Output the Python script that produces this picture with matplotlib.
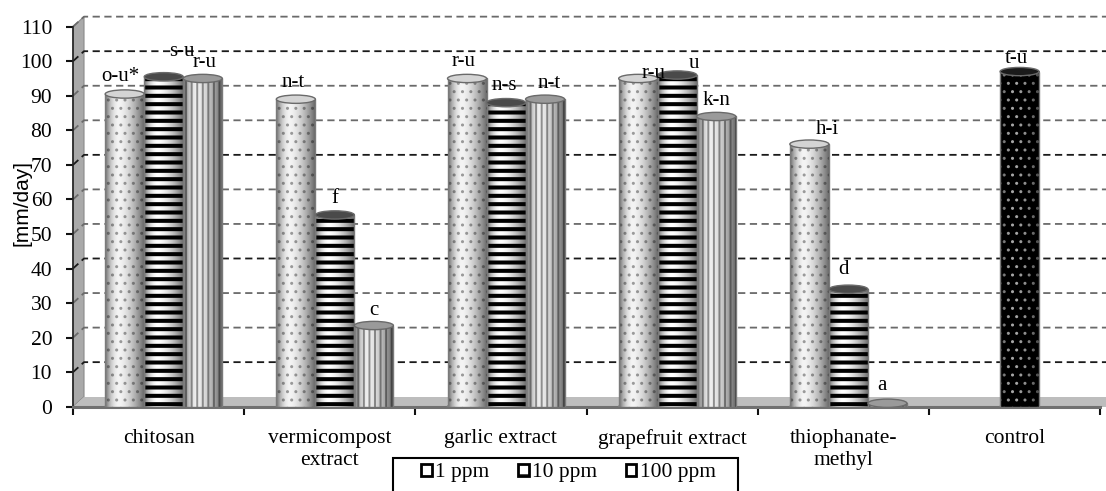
import numpy as np
import matplotlib
matplotlib.use("Agg")
import matplotlib.pyplot as plt
from matplotlib.patches import Ellipse, Polygon, Patch, Rectangle

# ---------------- data ----------------
categories = ["chitosan", "vermicompost\nextract", "garlic extract",
              "grapefruit extract", "thiophanate-\nmethyl", "control"]
series_names = ["1 ppm", "10 ppm", "100 ppm"]
ppm1 = [90.5, 89.0, 95.0, 95.0, 76.0, None]
ppm10 = [95.5, 55.5, 88.0, 96.0, 34.0, None]
ppm100 = [95.0, 23.5, 89.0, 84.0, 1.0, None]
control_value = 97.0
labels1 = ["o-u*", "n-t", "r-u", "r-u", "h-i"]
labels10 = ["s-u", "f", "n-s", "u", "d"]
labels100 = ["r-u", "c", "n-t", "k-n", "a"]
control_label = "t-u"
yticks = list(range(0, 111, 10))

# label offsets in pixels (style only)
off1 = [(-4, 18), (-3, 17), (-3, 17), (15, 5), (18, 15)]
off10 = [(18, 25), (0, 16), (-2, 17), (17, 12), (-5, 20)]
off100 = [(2, 16), (0, 15), (4, 16), (0, 16), (-5, 18)]
off_control = (-3, 13)

serif = ["Liberation Serif", "DejaVu Serif"]
sans = ["Liberation Sans", "DejaVu Sans"]
plt.rcParams["font.family"] = serif

W, H = 1106, 491
fig = plt.figure(figsize=(W / 100, H / 100), dpi=100)
y0px, x0px, x1px = 406.7, 73, 1100
ymax = 113.5
pxu = 3.455
ax = fig.add_axes([x0px / W, 1 - y0px / H, (x1px - x0px) / W, ymax * pxu / H])
ax.set_xlim(-0.5, 5.5)
ax.set_ylim(0, ymax)

ncat = len(categories)
DX = 11 / ((x1px - x0px) / ncat)
DY = 10 / pxu
xend = 5.5 + 6 / ((x1px - x0px) / ncat)

# side wall, floor
ax.add_patch(Polygon([(-0.5, 0), (-0.5 + DX, DY), (-0.5 + DX, 110 + DY), (-0.5, 110)],
                     closed=True, facecolor="#a9a9a9", edgecolor="#8a8a8a", lw=0.8,
                     clip_on=False, zorder=1))
ax.add_patch(Polygon([(-0.5, 0), (xend, 0), (xend, DY), (-0.5 + DX, DY)],
                     closed=True, facecolor="#bdbdbd", edgecolor="none",
                     clip_on=False, zorder=1))

# back wall gridlines
for i, v in enumerate(yticks):
    if v == 0:
        continue
    col = "#1a1a1a" if i % 3 == 1 else "#6a6a6a"
    ax.plot([-0.5, -0.5 + DX, xend], [v, v + DY, v + DY], color=col, lw=1.3,
            ls=(0, (4, 2.5)), clip_on=False, zorder=1.5)

# bars
bw = 0.228
shift = 0.03
styles = [
    dict(face="#f3f3f3", hatch="..", hc="#9a9a9a", hlw=1.0, top="#d4d4d4"),
    dict(face="#ffffff", hatch="--", hc="#000000", hlw=2.9, top="#4a4a4a"),
    dict(face="#ededed", hatch="|||", hc="#8f8f8f", hlw=1.4, top="#9a9a9a"),
]
control_style = dict(face="#000000", hatch="..", hc="#a8a8a8", hlw=1.0, top="#1a1a1a")

ell_h = 2.4

# shading gradient for cylinders
u = np.linspace(0, 1, 64)
alpha = np.where(u < 0.35, 0.55 * ((0.35 - u) / 0.35) ** 2, 0.6 * ((u - 0.35) / 0.65) ** 1.6)
shade = np.zeros((1, 64, 4))
shade[0, :, 3] = alpha


def cylinder(xc, val, st):
    x0 = xc - bw / 2
    with plt.rc_context({"hatch.linewidth": st["hlw"]}):
        ax.bar(xc, val, bw, color=st["face"], edgecolor="none", zorder=3)
        hat = ax.bar(xc, val, bw, color="none", edgecolor=st["hc"], hatch=st["hatch"],
                     lw=0, zorder=3.1)[0]
        if hasattr(hat, "set_hatch_linewidth"):
            hat.set_hatch_linewidth(st["hlw"])
    ax.imshow(shade, extent=[x0, x0 + bw, 0, val], aspect="auto", zorder=3.2,
              interpolation="bilinear")
    ax.bar(xc, val, bw, color="none", edgecolor="#7a7a7a", lw=1.0, zorder=3.3)
    ax.add_patch(Ellipse((xc, 0), bw, ell_h, facecolor=st["face"], edgecolor="#7a7a7a",
                         lw=1.0, zorder=2.9))
    ax.add_patch(Ellipse((xc, val), bw, ell_h, facecolor=st["top"], edgecolor="#6a6a6a",
                         lw=1.0, zorder=3.4))


for ci in range(ncat - 1):
    for j, (vals, labs, offs) in enumerate([(ppm1, labels1, off1), (ppm10, labels10, off10),
                                             (ppm100, labels100, off100)]):
        xc = ci + (j - 1) * bw + shift
        v = vals[ci]
        cylinder(xc, v, styles[j])
        ax.annotate(labs[ci], (xc, v), xytext=offs[ci], textcoords="offset pixels",
                    ha="center", va="center", fontsize=15, zorder=5)

xc = (ncat - 1) + shift
cylinder(xc, control_value, control_style)
ax.annotate(control_label, (xc, control_value), xytext=off_control, textcoords="offset pixels",
            ha="center", va="center", fontsize=15, zorder=5)

ax.set_xlim(-0.5, 5.5)
ax.set_ylim(0, ymax)

# axes styling
for s in ["top", "right"]:
    ax.spines[s].set_visible(False)
ax.spines["left"].set_bounds(0, 110)
ax.spines["left"].set_color("#222222")
ax.spines["left"].set_linewidth(1.2)
ax.spines["bottom"].set_color("#707070")
ax.spines["bottom"].set_linewidth(2.2)
ax.set_yticks(yticks)
ax.set_yticklabels([str(t) for t in yticks])
ax.tick_params(axis="y", direction="out", length=5, width=1.5, pad=10, labelsize=15.5,
               color="#111111")
ax.set_xticks(range(ncat))
ax.set_xticklabels(categories, linespacing=1.2)
ax.set_xticks(np.arange(-0.5, ncat, 1.0), minor=True)
ax.tick_params(axis="x", which="major", length=0, pad=16, labelsize=15.5)
ax.tick_params(axis="x", which="minor", direction="out", length=6, width=1.5, color="#111111")
ax.set_ylabel("[mm/day]", family=sans, fontsize=15)
ax.yaxis.set_label_coords(-0.040, 0.52)

# legend (frame drawn separately)
fig.add_artist(Rectangle((393 / W, -0.05), (738 - 393) / W, 0.05 + (H - 458) / H,
                         transform=fig.transFigure, facecolor="white", edgecolor="black",
                         lw=1.5, zorder=4))
handles = [Patch(facecolor="white", edgecolor="black", lw=2.0),
           Patch(facecolor="white", edgecolor="black", lw=2.0, hatch="-"),
           Patch(facecolor="white", edgecolor="black", lw=2.0)]
leg = fig.legend(handles, series_names, loc="center left", ncol=3,
                 bbox_to_anchor=(421 / W, 1 - 473 / H), borderaxespad=0,
                 frameon=False, fontsize=15.5, borderpad=0,
                 handlelength=0.5, handleheight=0.5, handletextpad=0.15,
                 columnspacing=1.33)
leg.set_zorder(5)

fig.savefig("out.png", dpi=100)
